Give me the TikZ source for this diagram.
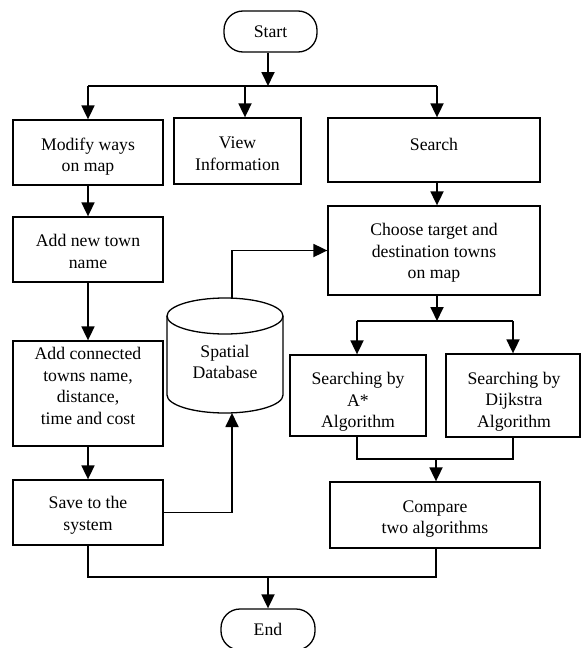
\documentclass[tikz,border=0pt]{standalone}
\usepackage{fontspec}
\setmainfont{Liberation Serif}
\usetikzlibrary{arrows.meta}
\begin{document}
\begin{tikzpicture}[x=1pt,y=-1pt,
  txt/.style={align=center, inner sep=0pt, font=\fontsize{17.7}{21.7}\selectfont},
  box/.style={draw, line width=1.3pt, inner sep=0pt},
  term/.style={txt, box, rounded corners=19pt},
  arr/.style={line width=1.8pt, -{Triangle[length=14pt,width=13pt]}},
  ln/.style={line width=1.3pt},
]
\useasboundingbox (0,0) rectangle (581,648);
% terminals
\node[term, minimum width=93pt, minimum height=41pt] (start) at (270.5,31.5) {Start};
\node[term, minimum width=94pt, minimum height=41pt] (end) at (268,629.5) {End};
% process boxes
\node[box, minimum width=150pt, minimum height=65pt] (modify) at (88,152.5) {};
\node[txt] (modifyt) at (88,156.5) {Modify ways\\on map};
\node[box, minimum width=127pt, minimum height=66pt] (view) at (237.5,151) {};
\node[txt] (viewt) at (237.5,154) {View\\Information};
\node[box, minimum width=212pt, minimum height=64pt] (search) at (434,150) {};
\node[txt] (searcht) at (434,144) {Search};
\node[box, minimum width=150pt, minimum height=65pt] (addnew) at (88,249.5) {};
\node[txt] (addnewt) at (88,251.5) {Add new town\\name};
\node[box, minimum width=150pt, minimum height=105pt] (addconn) at (88,393.5) {};
\node[txt] (addconnt) at (88,386) {Add connected\\towns name,\\distance,\\time and cost};
\node[box, minimum width=150pt, minimum height=65pt] (save) at (88,512.5) {};
\node[txt] (savet) at (88,515.5) {Save to the\\system};
\node[box, minimum width=212pt, minimum height=89pt] (choose) at (434,250.5) {};
\node[txt] (chooset) at (434,253) {Choose target and\\destination towns\\on map};
\node[box, minimum width=136pt, minimum height=81pt] (astar) at (358,395.5) {};
\node[txt] (astart) at (358,402) {Searching by\\A*\\Algorithm};
\node[box, minimum width=134pt, minimum height=83pt] (dijk) at (513,395.5) {};
\node[txt] (dijkt) at (514,401.5) {Searching by\\Dijkstra\\Algorithm};
\node[box, minimum width=210pt, minimum height=66pt] (compare) at (435,515) {};
\node[txt] (comparet) at (435,519) {Compare\\two algorithms};
% database cylinder
\draw[ln] (225,316) ellipse [x radius=58pt, y radius=18pt];
\draw[ln] (167,316) -- (167,395) arc[start angle=180, end angle=360, x radius=58pt, y radius=18pt] -- (283,316);
\node[txt] (db) at (225,362) {Spatial\\Database};
\coordinate (dbtop) at (232,298);
\coordinate (dbbot) at (232,413);
% junctions
\coordinate (sj) at (268,86);
\coordinate (sl) at (88,86);
\coordinate (sv) at (245,86);
\coordinate (sr) at (437,86);
\coordinate (cj) at (437,321);
\coordinate (cl) at (357,321);
\coordinate (cr) at (513,321);
\coordinate (mj) at (436,459);
\coordinate (ej) at (268,577);
% connectors
\draw[arr] (start.south -| sj) -- (sj);
\draw[ln] (sl) -- (sr);
\draw[arr] (sl) -- (sl |- modify.north);
\draw[arr] (sv) -- (sv |- view.north);
\draw[arr] (sr) -- (sr |- search.north);
\draw[arr] (sr |- search.south) -- (sr |- choose.north);
\draw[arr] (modify) -- (addnew);
\draw[arr] (addnew) -- (addconn);
\draw[arr] (addconn) -- (save);
\draw[arr] (save.east) -| (dbbot);
\draw[arr] (dbtop) |- (choose.west);
\draw[arr] (sr |- choose.south) -- (cj);
\draw[ln] (cl) -- (cr);
\draw[arr] (cl) -- (cl |- astar.north);
\draw[arr] (cr) -- (cr |- dijk.north);
\draw[ln] (cl |- astar.south) |- (mj) -| (cr |- dijk.south);
\draw[arr] (mj) -- (mj |- compare.north);
\draw[ln] (save.south) |- (ej);
\draw[ln] (mj |- compare.south) |- (ej);
\draw[arr] (ej) -- (end);
\end{tikzpicture}
\end{document}
